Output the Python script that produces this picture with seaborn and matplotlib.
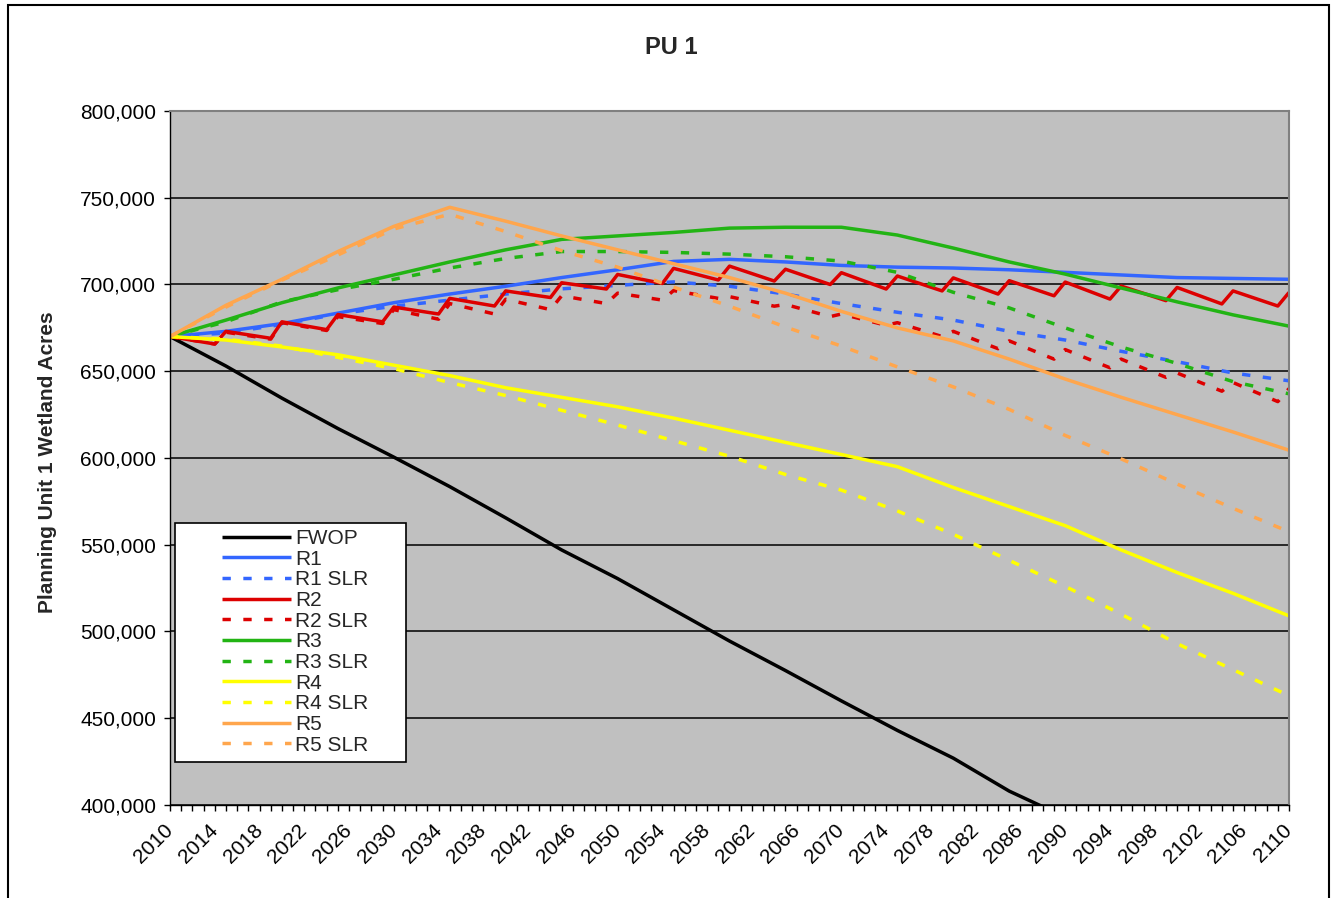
import matplotlib
matplotlib.use("Agg")
import matplotlib.pyplot as plt
from matplotlib.patches import Rectangle
from matplotlib.ticker import FuncFormatter, MultipleLocator
import pandas as pd
import seaborn as sns

# years for the smooth series (5-year readings) and for the saw-tooth R2 series
years = [2010, 2015, 2020, 2025, 2030, 2035, 2040, 2045, 2050, 2055, 2060,
         2065, 2070, 2075, 2080, 2085, 2090, 2095, 2100, 2105, 2110]
saw_years = [2010, 2014, 2015, 2019, 2020, 2024, 2025, 2029, 2030, 2034, 2035,
             2039, 2040, 2044, 2045, 2049, 2050, 2054, 2055, 2059, 2060, 2064,
             2065, 2069, 2070, 2074, 2075, 2079, 2080, 2084, 2085, 2089, 2090,
             2094, 2095, 2099, 2100, 2104, 2105, 2109, 2110]

fwop = [670000, 653000, 634500, 617000, 600500, 583500, 565500, 547000, 530500,
        512500, 494500, 477500, 460000, 443000, 427000, 408000, 393000, 376000,
        359000, 342000, 325000]
r1 = [670000, 673000, 677500, 683500, 689500, 694500, 699000, 704000, 708500,
      713300, 714500, 713000, 711000, 710000, 709500, 708500, 707000, 705500,
      704000, 703500, 703000]
r1_slr = [670000, 672000, 677000, 683000, 687500, 691000, 694500, 697500, 699500,
          701500, 699000, 694500, 689000, 684000, 679500, 673000, 668000, 661500,
          655500, 649000, 644500]
r2 = [670000, 665700, 673000, 669000, 678500, 674000, 682700, 678500, 687000,
      683000, 692000, 687600, 696300, 692500, 701000, 697400, 705800, 700600,
      709300, 702600, 710600, 702000, 708800, 700000, 706800, 697400, 704900,
      696300, 703800, 694500, 702200, 693500, 701400, 691600, 699100, 690700,
      698300, 688800, 696300, 687600, 695400]
r2_slr = [670000, 665700, 672500, 668500, 678000, 673500, 681500, 677500, 685500,
          680000, 689000, 683000, 691500, 685500, 693500, 689000, 695000, 691000,
          696500, 692000, 693000, 687500, 688500, 681500, 683000, 676500, 678000,
          670000, 673000, 663000, 667500, 657000, 662500, 652000, 657000, 646500,
          649000, 638500, 643500, 632500, 640000]
r3 = [670000, 679500, 689500, 698000, 705500, 713000, 720000, 726000, 728000,
      730000, 732500, 733000, 733000, 728500, 721000, 713000, 706000, 698000,
      690000, 682500, 676000]
r3_slr = [670000, 678500, 690000, 697000, 703000, 709500, 715000, 719000, 719000,
          718500, 717500, 716000, 713500, 707000, 695500, 686500, 675000, 664000,
          654500, 644000, 637000]
r4 = [670000, 668000, 664000, 659500, 653500, 647500, 640500, 635000, 629500,
      623000, 616000, 609000, 602000, 595000, 583000, 572000, 561000, 547000,
      534000, 522000, 509000]
r4_slr = [670000, 668500, 664500, 658000, 651500, 643500, 636000, 627500, 619000,
          610000, 601000, 590500, 581500, 569500, 556000, 541000, 526000, 510000,
          493000, 478000, 463000]
r5 = [670000, 688000, 703000, 719000, 733500, 744500, 736500, 728000, 720000,
      712000, 704000, 695000, 684500, 675000, 667500, 657000, 645500, 635000,
      625000, 615000, 604500]
r5_slr = [670000, 687000, 702500, 717000, 732000, 740500, 730500, 719500, 710000,
          698500, 687500, 675500, 664500, 652500, 641000, 628000, 613000, 599500,
          585000, 571000, 557500]

series = [
    ("FWOP", years, fwop),
    ("R1", years, r1),
    ("R1 SLR", years, r1_slr),
    ("R2", saw_years, r2),
    ("R2 SLR", saw_years, r2_slr),
    ("R3", years, r3),
    ("R3 SLR", years, r3_slr),
    ("R4", years, r4),
    ("R4 SLR", years, r4_slr),
    ("R5", years, r5),
    ("R5 SLR", years, r5_slr),
]
names = [s[0] for s in series]

frames = [pd.DataFrame({"year": yr, "acres": vals, "series": name})
          for name, yr, vals in series]
df = pd.concat(frames, ignore_index=True)

colors = {
    "FWOP": "#000000",
    "R1": "#3366FF", "R1 SLR": "#3366FF",
    "R2": "#DD0000", "R2 SLR": "#DD0000",
    "R3": "#22B414", "R3 SLR": "#22B414",
    "R4": "#FFFF00", "R4 SLR": "#FFFF00",
    "R5": "#FFA64D", "R5 SLR": "#FFA64D",
}
dots = (2.4, 3.6)
dashes = {n: (dots if n.endswith("SLR") else "") for n in names}

sns.set_theme(style="ticks")
plt.rcParams["font.family"] = ["Liberation Sans", "DejaVu Sans"]

fig = plt.figure(figsize=(13.41, 8.98), dpi=100)
ax = fig.add_axes([170 / 1341, 1 - 805 / 898, 1119 / 1341, 694 / 898])
ax.set_facecolor("#C0C0C0")

sns.lineplot(data=df, x="year", y="acres", hue="series", style="series",
             hue_order=names, style_order=names, palette=colors, dashes=dashes,
             linewidth=2.5, errorbar=None, legend=False, ax=ax)
for ln in ax.get_lines():
    ln.set_solid_capstyle("butt")
    ln.set_dash_capstyle("butt")

ax.set_xlim(2010, 2110)
ax.set_ylim(400000, 800000)
ax.yaxis.set_major_locator(MultipleLocator(50000))
ax.yaxis.set_major_formatter(FuncFormatter(lambda v, p: f"{v:,.0f}"))
ax.set_xticks(list(range(2010, 2111, 4)))
ax.xaxis.set_minor_locator(MultipleLocator(1))
ax.set_xticklabels([str(y) for y in range(2010, 2111, 4)], rotation=45,
                   ha="right", va="center", rotation_mode="anchor")
ax.tick_params(axis="both", which="both", direction="out", length=4, width=1,
               color="black", labelsize=15, labelcolor="black")
ax.tick_params(axis="x", which="major", pad=12)
ax.tick_params(axis="y", which="major", pad=6)
ax.grid(False)
ax.yaxis.grid(True, color="#000000", linewidth=1.1)
ax.set_axisbelow(True)

for side in ["top", "right"]:
    ax.spines[side].set_color("#808080")
    ax.spines[side].set_linewidth(1.5)
for side in ["left", "bottom"]:
    ax.spines[side].set_color("#000000")
    ax.spines[side].set_linewidth(1.0)

ax.set_xlabel("")
ax.set_ylabel("Planning Unit 1 Wetland Acres", fontsize=15, fontweight="bold")
ax.yaxis.set_label_coords(-0.101, 0.494)
fig.text(0.5004, 1 - 47 / 898, "PU 1", ha="center", va="center",
         fontsize=17, fontweight="bold")

# legend box (white, black edge) with the legend entries placed inside
ax.add_patch(Rectangle((5 / 1119, 43 / 694), 231 / 1119, 239 / 694,
                       transform=ax.transAxes, facecolor="white",
                       edgecolor="black", linewidth=1.2, zorder=4))
leg = ax.legend(ax.get_lines(), names, loc="upper left",
                bbox_to_anchor=(52 / 1119, 276 / 694), frameon=False,
                fontsize=15, handlelength=3.3, handletextpad=0.2,
                labelspacing=0.08, borderpad=0, borderaxespad=0)
leg.set_zorder(5)

# outer chart border
fig.add_artist(Rectangle((8 / 1341, -0.05), 1321 / 1341, 1.05 - 5 / 898,
                         transform=fig.transFigure, fill=False,
                         edgecolor="black", linewidth=1.5))

fig.savefig("out.png", dpi=100, facecolor="white")
